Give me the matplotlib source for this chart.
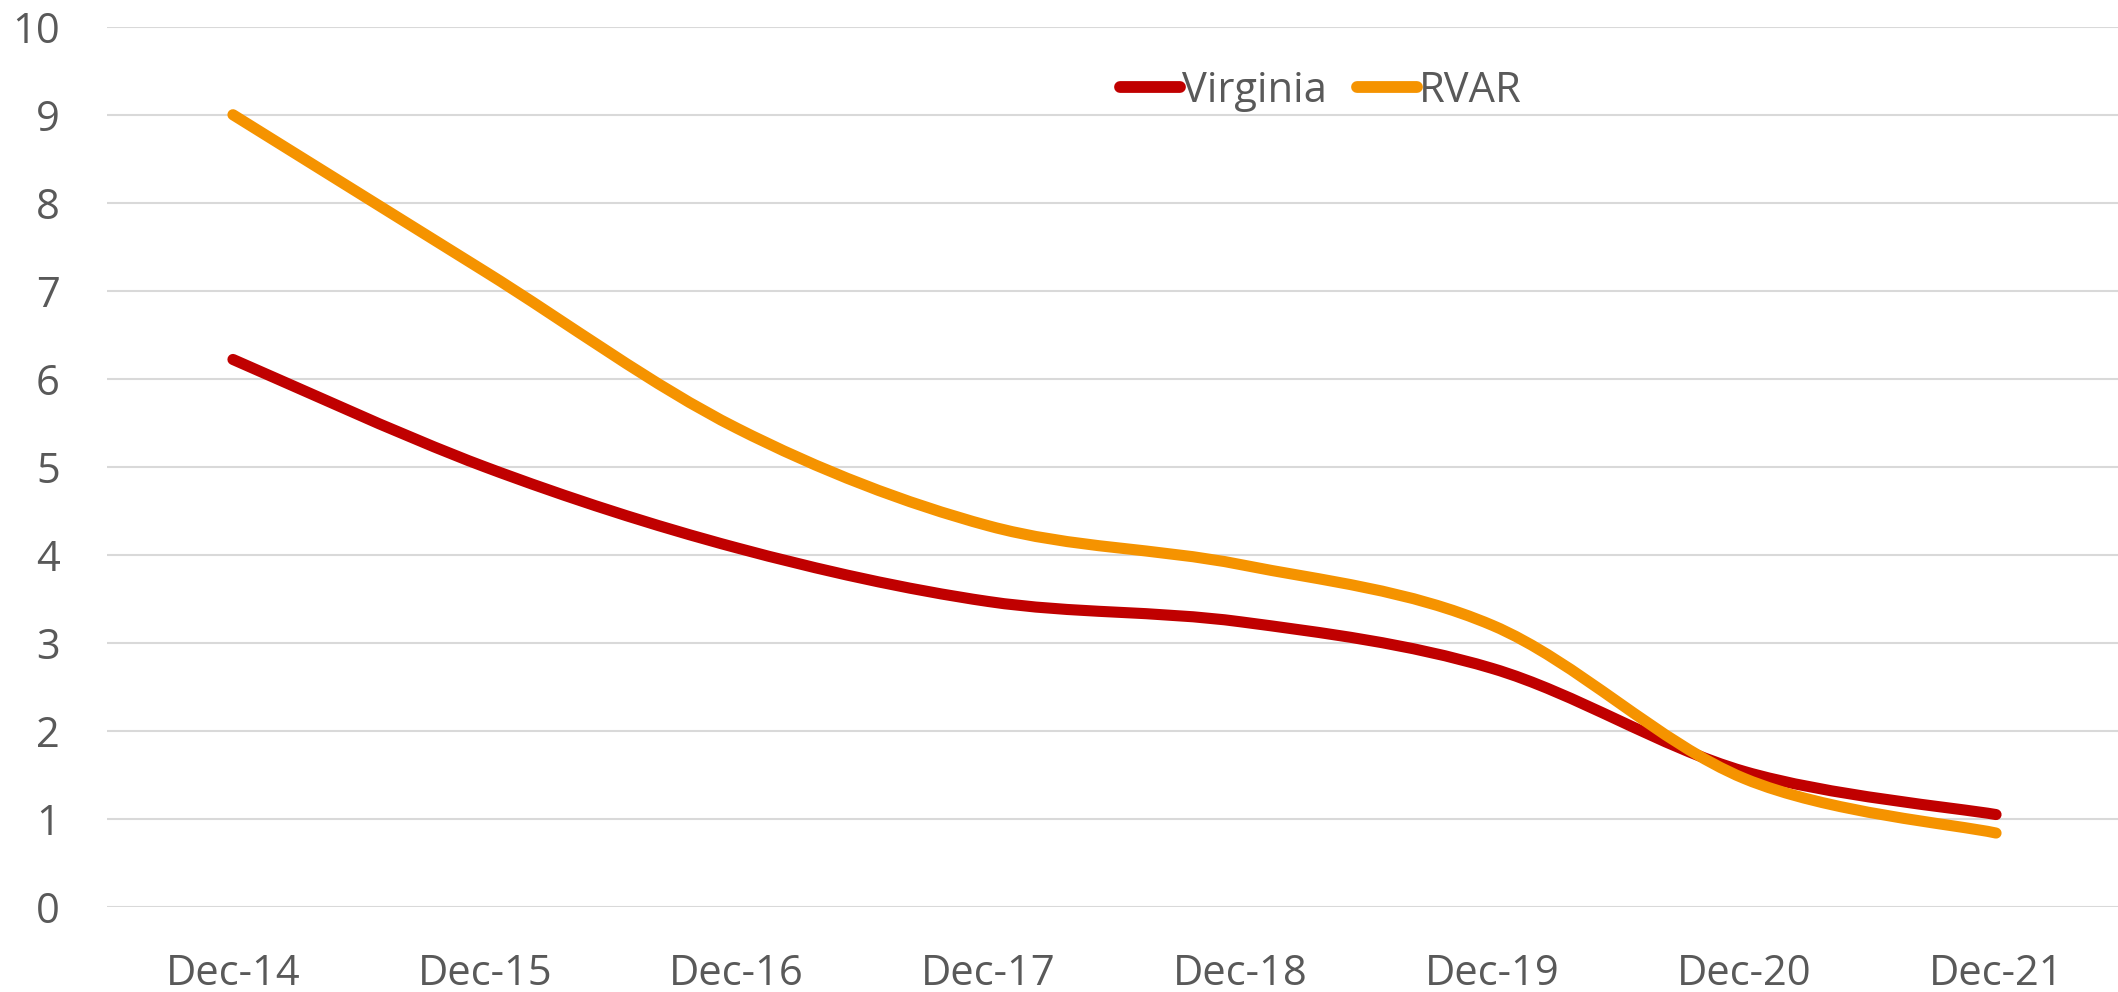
import numpy as np
import matplotlib
matplotlib.use('Agg')
import matplotlib.pyplot as plt
from matplotlib.path import Path
from matplotlib.patches import PathPatch
from matplotlib.lines import Line2D

# data (yearly, December)
labels = ['Dec-14', 'Dec-15', 'Dec-16', 'Dec-17', 'Dec-18', 'Dec-19', 'Dec-20', 'Dec-21']
virginia = [6.22, 5.00, 4.08, 3.47, 3.24, 2.71, 1.54, 1.05]
rvar = [9.00, 7.22, 5.44, 4.33, 3.89, 3.20, 1.46, 0.84]

red = '#C00000'
orange = '#F59300'
grey = '#595959'

plt.rcParams['font.family'] = ['Open Sans', 'DejaVu Sans']


def smooth_path(xs, ys):
    # excel style smoothed line: cubic bezier through every point
    pts = np.column_stack([xs, ys]).astype(float)
    n = len(pts)
    verts = [pts[0]]
    codes = [Path.MOVETO]
    for i in range(n - 1):
        p0 = pts[max(i - 1, 0)]
        p1 = pts[i]
        p2 = pts[i + 1]
        p3 = pts[min(i + 2, n - 1)]
        c1 = p1 + (p2 - p0) / 6.0
        c2 = p2 - (p3 - p1) / 6.0
        verts += [c1, c2, p2]
        codes += [Path.CURVE4] * 3
    return Path(verts, codes)


W, H = 2118, 992
fig = plt.figure(figsize=(W / 100, H / 100), dpi=100)
ax = fig.add_axes([107 / W, (H - 907) / H, (2122 - 107) / W, (907 - 26.7) / H])

x = np.arange(len(labels))
for vals, col in [(virginia, red), (rvar, orange)]:
    patch = PathPatch(smooth_path(x, vals), facecolor='none', edgecolor=col,
                      lw=8, capstyle='round', joinstyle='round', zorder=3)
    ax.add_patch(patch)

ax.set_xlim(-0.5, len(labels) - 0.5)
ax.set_ylim(0, 10)
ax.set_yticks(range(0, 11))
ax.set_xticks(x)
ax.set_xticklabels(labels)

ax.grid(axis='y', color='#D9D9D9', lw=1.5)
ax.set_axisbelow(True)
for s in ax.spines.values():
    s.set_visible(False)
ax.tick_params(axis='both', length=0, labelsize=30, labelcolor=grey)
ax.tick_params(axis='y', pad=34)
ax.tick_params(axis='x', pad=33)

handles = [Line2D([], [], color=red, lw=8.5, solid_capstyle='round'),
           Line2D([], [], color=orange, lw=8.5, solid_capstyle='round')]
leg = fig.legend(handles, ['Virginia', 'RVAR'], loc='center left',
                 bbox_to_anchor=(1120 / W, 1 - 91 / H), ncol=2, frameon=False,
                 fontsize=30, handlelength=1.45, handletextpad=0.05,
                 columnspacing=0.7, borderpad=0, borderaxespad=0)
for t in leg.get_texts():
    t.set_color(grey)

fig.savefig('out.png', dpi=100)
